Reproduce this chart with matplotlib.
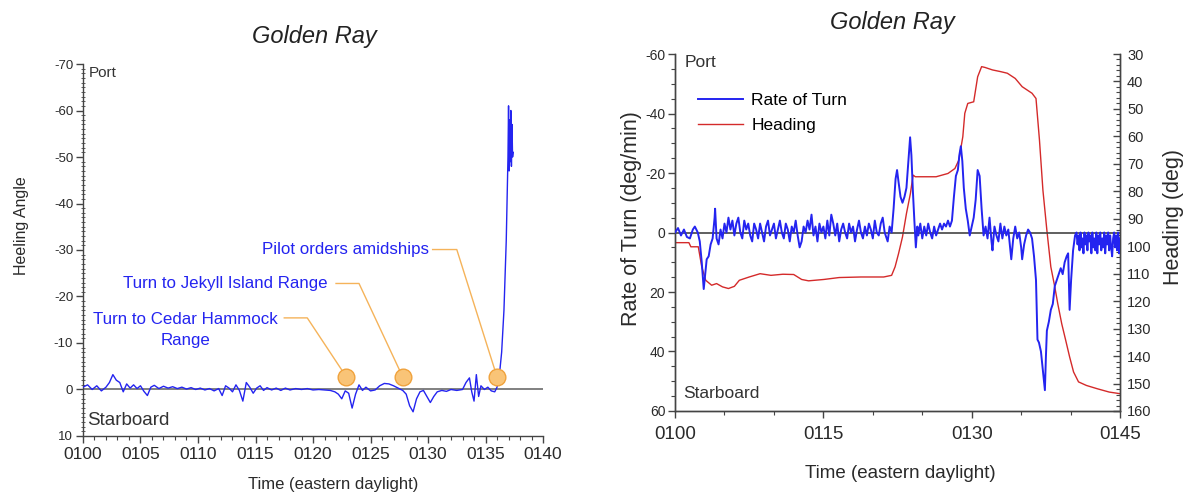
import matplotlib
matplotlib.use("Agg")
import matplotlib.pyplot as plt
from matplotlib.ticker import MultipleLocator, FuncFormatter

plt.rcParams["font.family"] = ["Liberation Sans", "DejaVu Sans"]
plt.rcParams["axes.unicode_minus"] = False

# ---- left panel: heeling angle (minutes after 0100, degrees; negative = port)
heel_t = [0, 0.4, 0.8, 1.2, 1.6, 2.0, 2.3, 2.6, 2.9, 3.2, 3.5, 3.8, 4.1, 4.4, 4.7,
          5.0, 5.3, 5.6, 5.9, 6.2, 6.6, 7.0, 7.4, 7.8, 8.2, 8.6, 9.0, 9.4, 9.8,
          10.2, 10.6, 11.0, 11.4, 11.8, 12.1, 12.4, 12.7, 13.0, 13.3, 13.6, 13.9,
          14.2, 14.5, 14.8, 15.1, 15.4, 15.7, 16.0, 16.4, 16.8, 17.2, 17.6, 18.0,
          18.5, 19.0, 19.5, 20.0, 20.5, 21.0, 21.5, 21.9, 22.2, 22.5, 22.8, 23.1,
          23.4, 23.7, 24.0, 24.3, 24.6, 25.0, 25.4, 25.8, 26.2, 26.6, 27.0, 27.4,
          27.8, 28.1, 28.4, 28.7, 29.0, 29.3, 29.6, 29.9, 30.2, 30.5, 30.8, 31.2,
          31.6, 32.0, 32.5, 33.0, 33.3, 33.6, 33.8, 34.0, 34.2, 34.4, 34.6, 34.9,
          35.2, 35.5, 35.8, 36.0, 36.2, 36.4, 36.6, 36.8, 36.95, 37.0, 37.05, 37.1,
          37.15, 37.2, 37.25, 37.3, 37.35, 37.4]
heel = [-0.5, -1, 0, -0.8, 0.3, -0.5, -1.5, -3.2, -2.0, -1.5, 0.5, -1.2, -0.3, -1.0,
        -0.2, -0.8, 0.4, 1.3, -0.5, -0.9, -0.2, -0.7, -0.3, -0.6, -0.2, -0.5, -0.1,
        -0.4, 0, -0.3, 0.1, -0.2, 0.3, -0.2, 1.3, -0.8, -0.3, 0.5, -1.0, 0.2, 2.5,
        -1.5, -0.5, 0.8, -0.3, -0.8, 0.2, -0.4, 0.1, -0.3, 0.2, -0.3, 0.1, -0.2, 0,
        -0.2, 0.1, 0, 0.1, 0.2, 0.5, 1.0, 2.0, 0.3, 0.8, 4.0, 1.0, -1.0, 0.2, -0.5,
        0.3, 0.1, -0.8, -1.3, -1.2, -0.8, -0.3, 0.2, 1.0, 3.5, 4.8, 2.0, 0.5, 0.2,
        1.5, 2.8, 1.5, 0.5, 0.2, 0.4, 0, 0.2, 0, -1.5, -2.5, 0.5, 2.5, -3.2, 1.5,
        -0.8, 0, -0.5, 0.3, 0.5, -0.5, -3, -8, -17, -32, -50, -61, -47, -58, -49,
        -60, -48, -57, -50, -51]

event_t = [22.9, 27.8, 36.0]
event_heel = [-2.7, -2.7, -2.7]
event_labels = ["Turn to Cedar Hammock\nRange", "Turn to Jekyll Island Range",
                "Pilot orders amidships"]

# ---- right panel: rate of turn (deg/min) and heading (deg)
rot_t = [0.0, 0.3, 0.6, 0.9, 1.2, 1.5, 1.8, 2.0, 2.3, 2.5, 2.7, 2.9, 3.05, 3.2, 3.4,
         3.6, 3.8, 4.0, 4.05, 4.2, 4.4, 4.6, 4.8, 5.0, 5.2, 5.4, 5.6, 5.8, 6.0, 6.2,
         6.4, 6.6, 6.8, 7.0, 7.2, 7.4, 7.6, 7.8, 8.0, 8.2, 8.4, 8.6, 8.8, 9.0, 9.2,
         9.4, 9.6, 9.8, 10.0, 10.2, 10.4, 10.6, 10.8, 11.0, 11.2, 11.4, 11.6, 11.8,
         12.0, 12.2, 12.4, 12.6, 12.8, 13.0, 13.2, 13.4, 13.6, 13.8, 14.0, 14.2,
         14.4, 14.6, 14.8, 15.0, 15.2, 15.4, 15.6, 15.8, 16.0, 16.2, 16.4, 16.6,
         16.8, 17.0, 17.2, 17.4, 17.6, 17.8, 18.0, 18.2, 18.4, 18.6, 18.8, 19.0,
         19.2, 19.4, 19.6, 19.8, 20.0, 20.2, 20.4, 20.6, 20.8, 21.0, 21.2, 21.5,
         21.7, 21.9, 22.1, 22.3, 22.45, 22.6, 22.8, 23.0, 23.2, 23.4, 23.6, 23.77,
         23.9, 24.05, 24.2, 24.35, 24.5, 24.6, 24.8, 25.0, 25.2, 25.4, 25.6, 25.8,
         26.0, 26.2, 26.4, 26.6, 26.8, 27.0, 27.2, 27.4, 27.6, 27.8, 28.0, 28.2,
         28.4, 28.6, 28.75, 28.9, 29.05, 29.2, 29.4, 29.6, 29.8, 30.0, 30.2, 30.4,
         30.6, 30.8, 31.0, 31.2, 31.4, 31.6, 31.8, 32.0, 32.1, 32.3, 32.5, 32.7,
         32.9, 33.1, 33.3, 33.5, 33.7, 33.85, 34.0, 34.2, 34.4, 34.6, 34.8, 35.0,
         35.1, 35.3, 35.5, 35.7, 35.9, 36.1, 36.3, 36.5, 36.65, 36.8, 37.0, 37.15,
         37.3, 37.4, 37.5, 37.6, 37.8, 38.0, 38.2, 38.4, 38.6, 38.8, 39.0, 39.2,
         39.4, 39.6, 39.75, 39.9, 40.05, 40.25, 40.45, 40.6, 40.7, 40.8, 40.9, 41.0,
         41.1, 41.2, 41.3, 41.4, 41.5, 41.6, 41.7, 41.8, 41.9, 42.0, 42.1, 42.2,
         42.3, 42.4, 42.5, 42.6, 42.7, 42.8, 42.9, 43.0, 43.1, 43.2, 43.3, 43.4,
         43.5, 43.6, 43.7, 43.8, 43.9, 44.0, 44.1, 44.2, 44.3, 44.4, 44.5, 44.6,
         44.7, 44.8, 44.9, 45.0]
rot = [0, -1.5, 1, -1, 1.5, 2, -1, -2, 0, 3, 10, 19, 14, 9, 8, 4, 2, -5, -8, 2, 4,
       -1, 2, -3, 0, -5, -1, -4, 1, -3, -5, 0, 2, -4, -1, -3, 1, 3, -3, -1, 2, -3, 0,
       3, -2, -4, 1, -1, -3, 2, -1, -4, 0, 2, -3, -1, 3, -2, 0, -4, 1, 5, 3, -2, 0,
       -4, -1, -6, 1, -2, 3, -3, 0, -2, 2, -4, 1, -6, -3, 1, -3, 3, -1, -3, 0, 2, -3,
       0, -2, 3, -1, -4, 0, 2, -2, 1, -3, -1, 2, -4, 0, 1, -3, -5, 0, 3, -2, 0, -8,
       -18, -21, -17, -12, -10, -12, -15, -24, -32, -26, -14, -4, 5, -2, 1, -3, 2,
       -2, 1, -3, 0, 2, -2, 1, -1, -3, -1, -3, -2, -4, -2, -4, -12, -19, -21, -26,
       -29, -24, -15, -8, -4, 1, -2, -5, -11, -21, -19, -8, 1, -2, 2, -5, 3, 6, -2,
       1, 3, -3, 2, -2, 1, -1, 4, 9, 2, -2, 2, 0, 5, 9, 4, 1, -1, 0, 2, 8, 16, 36,
       37, 40, 45, 50, 53, 42, 33, 30, 26, 24, 18, 16, 14, 12, 14, 10, 8, 7, 26, 16,
       6, 1, 0, 4, 1, 6, 0, 5, 2, 7, 0, 4, 1, 6, 0, 3, 1, 7, 0, 5, 2, 6, 0, 7, 1, 4,
       0, 6, 2, 5, 0, 7, 1, 4, 0, 6, 1, 5, 8, 2, 0, 5, 1, 6, 0, 7, 2]

head_t = [0, 1.4, 1.6, 2.35, 2.7, 3.1, 3.7, 4.2, 4.8, 5.4, 6.0, 6.5, 7.5, 8.6, 9.7,
          10.9, 12.0, 12.8, 13.5, 15.05, 16.6, 18.8, 21.1, 21.9, 22.25, 22.6, 23.0,
          23.4, 23.8, 24.07, 24.3, 25.3, 26.4, 27.6, 28.3, 28.7, 29.1, 29.3, 29.6,
          30.2, 30.6, 31.0, 31.35, 32.1, 32.9, 33.6, 34.4, 35.1, 36.1, 36.5, 36.85,
          37.2, 37.6, 38.0, 38.4, 38.7, 39.1, 39.5, 39.9, 40.3, 40.8, 41.6, 42.7,
          43.9, 45.0]
heading = [98.7, 98.7, 100.2, 100.2, 107.5, 112.4, 114.2, 113.6, 114.8, 115.4,
           114.6, 112.4, 111.2, 110.0, 110.6, 110.2, 110.3, 112.1, 112.6, 112.1,
           111.4, 111.2, 111.2, 110.6, 107.5, 102.7, 96.6, 88.1, 80.8, 74.1, 74.7,
           74.7, 74.7, 73.5, 71.7, 68.6, 60.1, 51.6, 48.0, 47.4, 38.3, 34.6, 34.9,
           35.8, 36.4, 37.0, 38.9, 41.9, 44.3, 46.2, 61.3, 79.6, 94.2, 107.5, 114.8,
           120.9, 128.2, 134.2, 140.3, 145.8, 149.4, 150.7, 151.9, 153.1, 153.7]

BLUE = "#2424f0"
TXT = "#2a2a2a"

hhmm = FuncFormatter(lambda v, _: f"01{int(round(v)):02d}")

fig = plt.figure(figsize=(11.87, 4.95), dpi=100)

# ===================== left panel =====================
ax1 = fig.add_axes([0.0699, 0.1192, 0.3876, 0.7515])
ax1.plot(heel_t, heel, color=BLUE, lw=1.0, zorder=3)
ax1.axhline(0, color="#808080", lw=1.4, zorder=2)
ax1.set_xlim(0, 40)
ax1.set_ylim(10, -70)
ax1.xaxis.set_major_locator(MultipleLocator(5))
ax1.xaxis.set_minor_locator(MultipleLocator(1))
ax1.yaxis.set_major_locator(MultipleLocator(10))
ax1.yaxis.set_minor_locator(MultipleLocator(1))
ax1.xaxis.set_major_formatter(hhmm)
ax1.tick_params(axis="x", which="major", labelsize=12.5, length=5, width=1,
                colors="#444", labelcolor=TXT, pad=3)
ax1.tick_params(axis="x", which="minor", length=3, width=0.8, colors="#444")
ax1.tick_params(axis="y", which="major", labelsize=9.5, length=5, width=1,
                colors="#444", labelcolor=TXT, pad=2)
ax1.tick_params(axis="y", which="minor", direction="inout", length=3, width=0.6,
                colors="#444")
for s in ("top", "right"):
    ax1.spines[s].set_visible(False)
for s in ("left", "bottom"):
    ax1.spines[s].set_color("#444")
    ax1.spines[s].set_linewidth(1.0)

fig.text(22 / 1187, 1 - 226 / 495, "Heeling Angle", fontsize=11.5, color=TXT,
         rotation=90, ha="center", va="center")
fig.text(333 / 1187, 1 - 485 / 495, "Time (eastern daylight)", fontsize=12,
         color=TXT, ha="center", va="center")
ax1.text(0.013, 0.976, "Port", transform=ax1.transAxes, fontsize=11,
         color="#333", va="center", ha="left")
ax1.text(0.009, 0.043, "Starboard", transform=ax1.transAxes, fontsize=13.5,
         color="#333", va="center", ha="left")

# event markers with leader lines
label_xy = [(8.9, -12.7), (21.3, -22.8), (30.1, -30.1)]
elbow_x = [[17.5, 19.5], [22.0, 24.0], [30.4, 32.5]]
elbow_y = [-15.4, -22.8, -30.1]
for (lx, ly), ex, ey, txt, et, ev in zip(label_xy, elbow_x, elbow_y,
                                         event_labels, event_t, event_heel):
    ax1.plot([ex[0], ex[1], et], [ey, ey, ev], color="#f5b35a", lw=1.0, zorder=4)
    ha = "center" if "\n" in txt else "right"
    ax1.text(lx, ly, txt, color=BLUE, fontsize=12.2, ha=ha, va="center",
             linespacing=1.5)
ax1.plot(event_t, event_heel, "o", ms=12, mfc="#f9c477", mec="#f0a23c",
         mew=1.0, zorder=5)

fig.text(0.2645, 1 - 37 / 495, "Golden Ray", fontsize=17, style="italic",
         ha="center", va="center", color="#222")

# ===================== right panel =====================
ax2 = fig.add_axes([0.5687, 0.1697, 0.3749, 0.7212])
ax3 = ax2.twinx()
ax2.axhline(0, color="#444", lw=1.2, zorder=2)
l_rot, = ax2.plot(rot_t, rot, color=BLUE, lw=1.4, zorder=3, label="Rate of Turn")
l_head, = ax3.plot(head_t, heading, color="#d42a2a", lw=1.0, label="Heading")
ax2.set_zorder(ax3.get_zorder() + 1)
ax2.patch.set_visible(False)

ax2.set_xlim(0, 45)
ax2.set_ylim(60, -60)
ax3.set_ylim(160, 30)
ax2.xaxis.set_major_locator(MultipleLocator(15))
ax2.xaxis.set_minor_locator(MultipleLocator(5))
ax2.xaxis.set_major_formatter(hhmm)
ax2.yaxis.set_major_locator(MultipleLocator(20))
ax2.yaxis.set_minor_locator(MultipleLocator(5))
ax3.yaxis.set_major_locator(MultipleLocator(10))
ax3.yaxis.set_minor_locator(MultipleLocator(2))
ax2.tick_params(axis="x", which="major", labelsize=13.5, length=5, width=1,
                colors="#444", labelcolor=TXT, pad=6)
ax2.tick_params(axis="x", which="minor", length=3, width=0.8, colors="#444")
ax2.tick_params(axis="y", which="major", labelsize=10, length=5, width=1,
                colors="#444", labelcolor=TXT, pad=2)
ax2.tick_params(axis="y", which="minor", length=3, width=0.8, colors="#444")
ax3.tick_params(axis="y", which="major", labelsize=10.5, length=5, width=1,
                direction="in", colors="#444", labelcolor=TXT, pad=5)
ax3.tick_params(axis="y", which="minor", length=3, width=0.8, direction="in",
                colors="#444")
for a in (ax2, ax3):
    a.spines["top"].set_visible(False)
    for s in ("left", "right", "bottom"):
        a.spines[s].set_color("#444")
        a.spines[s].set_linewidth(1.0)

fig.text(632 / 1187, 1 - 219 / 495, "Rate of Turn (deg/min)", fontsize=15.5,
         color=TXT, rotation=90, ha="center", va="center")
fig.text(1173 / 1187, 1 - 217 / 495, "Heading (deg)", fontsize=15.5,
         color=TXT, rotation=90, ha="center", va="center")
fig.text(900 / 1187, 1 - 473 / 495, "Time (eastern daylight)", fontsize=13.5,
         color=TXT, ha="center", va="center")
ax2.text(0.022, 0.975, "Port", transform=ax2.transAxes, fontsize=12.5,
         color="#333", va="center", ha="left")
ax2.text(0.018, 0.05, "Starboard", transform=ax2.transAxes, fontsize=12.5,
         color="#333", va="center", ha="left")

ax2.legend(handles=[l_rot, l_head], loc="upper left",
           bbox_to_anchor=(0.035, 0.91), frameon=False, fontsize=12.5,
           handlelength=2.6, handletextpad=0.5, labelspacing=0.55,
           borderaxespad=0.0)

fig.text(0.752, 1 - 22 / 495, "Golden Ray", fontsize=17, style="italic",
         ha="center", va="center", color="#222")

fig.savefig("out.png", dpi=100)
